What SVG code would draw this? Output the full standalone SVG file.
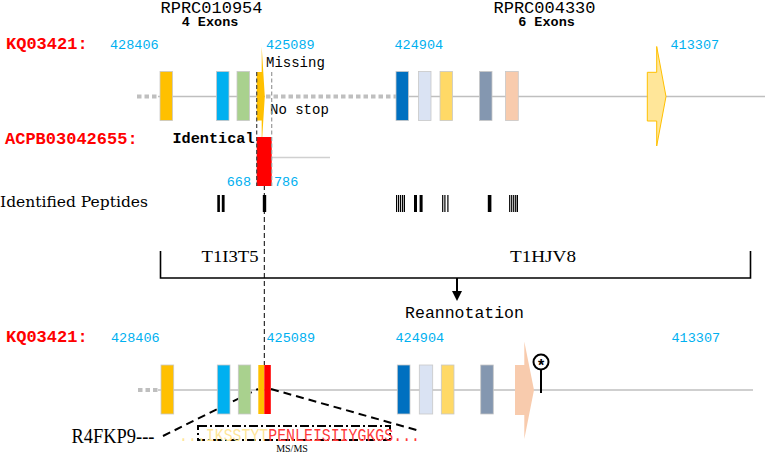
<svg xmlns="http://www.w3.org/2000/svg" width="765" height="454" viewBox="0 0 765 454">
<style>
.mono{font-family:"Liberation Mono","Courier New",monospace}
.serif{font-family:"Liberation Serif","Times New Roman",serif}
.lab{font-family:"Liberation Mono",monospace;font-weight:bold;fill:#FF0000;font-size:17px}
.num{font-family:"Liberation Mono",monospace;fill:#00B0F0;font-size:13.5px}
.ex{stroke:#C8C8C8;stroke-width:0.8}
.bb{stroke:#BFBFBF;stroke-width:1.5;fill:none}
.dots{stroke:#BFBFBF;stroke-width:4;stroke-dasharray:4.5 3;fill:none}
.pep{fill:#000}
</style>
<rect width="765" height="454" fill="#fff"/>

<!-- connectors / backbone lines -->
<g id="connectors">
  <line class="dots" x1="137" y1="96.5" x2="158" y2="96.5"/>
  <line class="bb" x1="158" y1="96.5" x2="265" y2="96.5"/>
  <line class="dots" x1="266" y1="96.5" x2="396" y2="96.5"/>
  <line class="bb" x1="396" y1="96.5" x2="765" y2="96.5"/>
  <line stroke="#D0D0D0" stroke-width="1.5" x1="272" y1="157.5" x2="330" y2="157.5"/>
  <line class="dots" x1="138" y1="390" x2="158" y2="390"/>
  <line class="bb" x1="158" y1="390" x2="753" y2="390"/>
  <!-- long dashed reference line -->
  <line stroke="#000" stroke-width="1" stroke-dasharray="5 3" x1="264.3" y1="137" x2="264.3" y2="365"/>
  <!-- bracket -->
  <path d="M160.5 251 V278 H750.5 V251" fill="none" stroke="#000" stroke-width="1.6"/>
  <line x1="457" y1="278" x2="457" y2="292" stroke="#000" stroke-width="2"/>
  <polygon points="452,291 462,291 457,301" fill="#000"/>
  <!-- zoom lines -->
  <line x1="163" y1="436" x2="258" y2="389" stroke="#000" stroke-width="2" stroke-dasharray="8 5"/>
  <line x1="271" y1="389" x2="420" y2="431" stroke="#000" stroke-width="2" stroke-dasharray="8 5"/>
</g>

<!-- titles -->
<g id="gene1-title">
  <text class="mono" x="211.5" y="12.5" font-size="17" text-anchor="middle">RPRC010954</text>
  <text class="mono" x="210" y="26" font-size="13.5" font-weight="bold" text-anchor="middle">4 Exons</text>
</g>
<g id="gene2-title">
  <text class="mono" x="544.5" y="12.5" font-size="17" text-anchor="middle">RPRC004330</text>
  <text class="mono" x="546.5" y="26" font-size="13.5" font-weight="bold" text-anchor="middle">6 Exons</text>
</g>

<!-- top track -->
<g id="track-top">
  <text class="lab" x="6" y="49">KQ03421:</text>
  <text class="num" x="110" y="48.5">428406</text>
  <text class="num" x="266" y="48.5">425089</text>
  <text class="num" x="394.5" y="48.5">424904</text>
  <text class="num" x="670.5" y="48.5">413307</text>
  <rect class="ex" x="160" y="71.5" width="12.5" height="49" fill="#FFC000"/>
  <rect class="ex" x="216.5" y="71.5" width="12.5" height="49" fill="#00B0F0"/>
  <rect class="ex" x="237" y="71.5" width="12.5" height="49" fill="#A9D18E"/>
  <polygon points="256.7,72 261.7,72 261.7,46.5 264.8,96.5 261.7,146 261.7,120.5 256.7,120.5" fill="#FFC000"/>
  <rect class="ex" x="396" y="71.5" width="12.5" height="49" fill="#0070C0"/>
  <rect class="ex" x="418.5" y="71.5" width="12.5" height="49" fill="#DAE3F3"/>
  <rect class="ex" x="440" y="71.5" width="12.5" height="49" fill="#FFD966"/>
  <rect class="ex" x="479.5" y="71.5" width="12.5" height="49" fill="#8497B0"/>
  <rect class="ex" x="505.5" y="71.5" width="12.8" height="49" fill="#F8CBAD"/>
  <polygon points="647.3,72.3 656.7,72.3 656.7,46.5 666,96.5 656.7,146 656.7,121 647.3,121" fill="#FFE699" stroke="#FFC000" stroke-width="1"/>
  <text class="mono" x="266" y="67" font-size="14">Missing</text>
  <text class="mono" x="270" y="113.5" font-size="14">No stop</text>
</g>

<!-- ACPB track -->
<g id="track-acpb">
  <text class="lab" x="5" y="143.5">ACPB03042655:</text>
  <text class="mono" x="172.5" y="143" font-size="15.2" font-weight="bold">Identical</text>
  <rect x="256.7" y="137" width="15" height="49" fill="#FF0000"/>
  <line x1="256.7" y1="72" x2="256.7" y2="186" stroke="#444" stroke-width="1.2" stroke-dasharray="4 2.5"/>
  <line x1="271.7" y1="72" x2="271.7" y2="186" stroke="#999" stroke-width="1.2" stroke-dasharray="4 2.5"/>
  <text class="num" x="251" y="186" text-anchor="end">668</text>
  <text class="num" x="274" y="186">786</text>
</g>

<!-- peptides -->
<g id="peptides">
  <text x="0" y="207" font-family="DejaVu Serif,Liberation Serif,serif" font-size="14" textLength="148" lengthAdjust="spacingAndGlyphs">Identified Peptides</text>
  <rect class="pep" x="217.3" y="195" width="2.6" height="17"/>
  <rect class="pep" x="221.8" y="195" width="2.8" height="17"/>
  <rect class="pep" x="262.8" y="195" width="3.4" height="17"/>
  <g stroke="#000" stroke-width="1.2">
    <line x1="396.6" y1="195" x2="396.6" y2="212"/>
    <line x1="398.6" y1="195" x2="398.6" y2="212"/>
    <line x1="400.6" y1="195" x2="400.6" y2="212"/>
    <line x1="402.6" y1="195" x2="402.6" y2="212"/>
    <line x1="404.4" y1="195" x2="404.4" y2="212"/>
    <line x1="442.7" y1="195" x2="442.7" y2="212"/>
    <line x1="444.9" y1="195" x2="444.9" y2="212"/>
    <line x1="447.9" y1="195" x2="447.9" y2="212"/>
    <line x1="509.7" y1="195" x2="509.7" y2="212"/>
    <line x1="511.7" y1="195" x2="511.7" y2="212"/>
    <line x1="513.7" y1="195" x2="513.7" y2="212"/>
    <line x1="515.7" y1="195" x2="515.7" y2="212"/>
    <line x1="517.4" y1="195" x2="517.4" y2="212"/>
  </g>
  <rect class="pep" x="414" y="195" width="3" height="17"/>
  <rect class="pep" x="419.6" y="195" width="3" height="17"/>
  <rect class="pep" x="487.8" y="195" width="3.6" height="17"/>
</g>

<!-- bracket labels -->
<g id="bracket-labels">
  <text class="serif" x="230" y="262" font-size="17" text-anchor="middle" textLength="57" lengthAdjust="spacingAndGlyphs">T1I3T5</text>
  <text class="serif" x="543" y="262" font-size="17" text-anchor="middle" textLength="66" lengthAdjust="spacingAndGlyphs">T1HJV8</text>
  <text class="mono" x="464.5" y="318" font-size="16.5" text-anchor="middle">Reannotation</text>
</g>

<!-- bottom track -->
<g id="track-bottom">
  <text class="lab" x="6" y="342">KQ03421:</text>
  <text class="num" x="111" y="342">428406</text>
  <text class="num" x="266.5" y="342">425089</text>
  <text class="num" x="395.5" y="342">424904</text>
  <text class="num" x="671.5" y="342">413307</text>
  <rect class="ex" x="161" y="365" width="12.7" height="49" fill="#FFC000"/>
  <rect class="ex" x="217.3" y="365" width="12.7" height="49" fill="#00B0F0"/>
  <rect class="ex" x="238.3" y="365" width="12.4" height="49" fill="#A9D18E"/>
  <rect x="258.3" y="365" width="6" height="49" fill="#FFC000"/>
  <rect x="264.3" y="365" width="6.5" height="49" fill="#FF0000"/>
  <rect class="ex" x="397.3" y="365" width="12.7" height="49" fill="#0070C0"/>
  <rect class="ex" x="419.3" y="365" width="13.4" height="49" fill="#DAE3F3"/>
  <rect class="ex" x="441.3" y="365" width="12.7" height="49" fill="#FFD966"/>
  <rect class="ex" x="480.7" y="365" width="12.6" height="49" fill="#8497B0"/>
  <polygon points="515,365 524.3,365 524.3,341.5 534,390 524.3,439 524.3,415 515,415" fill="#F8CBAD"/>
</g>

<!-- stop codon -->
<g id="stop">
  <line x1="541" y1="369" x2="541" y2="393" stroke="#000" stroke-width="2"/>
  <circle cx="541" cy="362" r="7.5" fill="#fff" stroke="#000" stroke-width="2"/>
  <text x="541" y="371" font-family="Liberation Sans,Arial,sans-serif" font-size="16" font-weight="bold" text-anchor="middle">*</text>
</g>

<!-- sequence -->
<g id="sequence">
  <rect x="198" y="426" width="192" height="14" fill="none" stroke="#000" stroke-width="2" stroke-dasharray="9 3 2 3"/>
  <text class="serif" x="71.5" y="443" font-size="20" textLength="83" lengthAdjust="spacingAndGlyphs">R4FKP9---</text>
  <text class="mono" x="179" y="440.5" font-size="19" textLength="241" lengthAdjust="spacingAndGlyphs"><tspan fill="#FFE699">...IKSSTYT</tspan><tspan fill="#FF3B3B">PENLEISIIYGKGS...</tspan></text>
  <text class="serif" x="292" y="452" font-size="10" text-anchor="middle">MS/MS</text>
</g>
</svg>
